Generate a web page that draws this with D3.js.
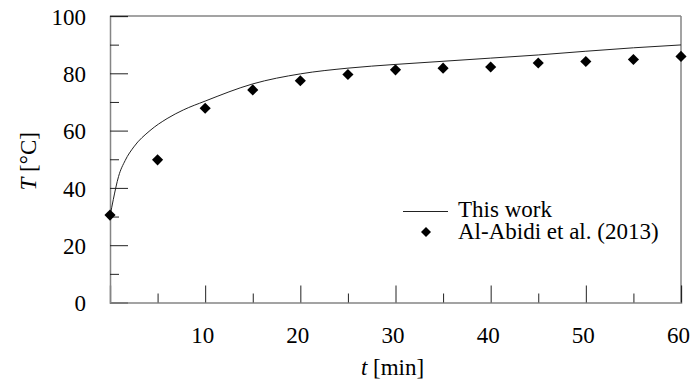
<!DOCTYPE html>
<html>
<head>
<meta charset="utf-8">
<script src="https://cdn.jsdelivr.net/npm/d3@7"></script>
<style>
  html, body { margin: 0; padding: 0; background: #fff; }
  svg { display: block; }
  svg text { font-family: "Liberation Serif", "Times New Roman", Tinos, serif !important; fill: #000; }
</style>
</head>
<body>
<svg id="chart" width="697" height="387"></svg>
<script>
// Data
const expTime = [0, 5, 10, 15, 20, 25, 30, 35, 40, 45, 50, 55, 60];
const expTemp = [30.5, 49.8, 67.8, 74.2, 77.4, 79.6, 81.2, 81.8, 82.2, 83.6, 84.1, 84.8, 85.9];

const modelTime = [0, 0.35, 0.9, 1.6, 2.5, 4.2, 6, 7.7, 10, 15, 20, 25, 30, 35, 40, 45, 50, 55, 60];
const modelTemp = [30, 36, 44, 49.6, 54.3, 60, 64.2, 67.2, 70.3, 76.3, 79.8, 81.8, 83.1, 84.2, 85.3, 86.4, 87.7, 88.9, 89.9];

const xMajorTicks = [10, 20, 30, 40, 50, 60];
const xMinorTicks = [5, 15, 25, 35, 45, 55];
const yMajorTicks = [0, 20, 40, 60, 80, 100];
const yMinorTicks = [10, 30, 50, 70, 90];

const legendLabels = ["This work", "Al-Abidi et al. (2013)"];
const xTitle = "[min]";
const yTitle = "[°C]";

const svg = d3.select("#chart");
const W = 697, H = 387;
const m = { left: 110, right: W - 681, top: 16, bottom: H - 302.5 };

const x = d3.scaleLinear().domain([0, 60]).range([m.left, W - m.right]);
const y = d3.scaleLinear().domain([0, 100]).range([H - m.bottom, m.top]);

const axisColor = "#858585";
const tickColor = "#222";
const fontSize = 23;

// frame (top and right)
svg.append("line").attr("x1", x(0)).attr("x2", x(60)).attr("y1", y(100)).attr("y2", y(100))
  .attr("stroke", axisColor).attr("stroke-width", 1.5);
svg.append("line").attr("x1", x(60)).attr("x2", x(60)).attr("y1", y(100)).attr("y2", y(0))
  .attr("stroke", axisColor).attr("stroke-width", 1.5);

// Y axis (ticks pointing inward)
const gy = svg.append("g").attr("transform", `translate(${x(0)},0)`)
  .call(d3.axisLeft(y).tickValues(yMajorTicks).tickSize(-18).tickFormat(d3.format("d")));
gy.select(".domain").attr("stroke", axisColor).attr("stroke-width", 1.5);
gy.selectAll(".tick line").attr("stroke", tickColor).attr("stroke-width", 1);
gy.selectAll(".tick text").attr("font-size", fontSize).attr("x", -24).attr("dy", "0.36em");
const gyMinor = svg.append("g").attr("transform", `translate(${x(0)},0)`)
  .call(d3.axisLeft(y).tickValues(yMinorTicks).tickSize(-9).tickFormat(""));
gyMinor.select(".domain").remove();
gyMinor.selectAll(".tick line").attr("stroke", tickColor).attr("stroke-width", 1);

// X axis (ticks pointing inward)
const gx = svg.append("g").attr("transform", `translate(0,${y(0)})`)
  .call(d3.axisBottom(x).tickValues(xMajorTicks).tickSize(-17).tickFormat(d3.format("d")));
gx.select(".domain").attr("stroke", axisColor).attr("stroke-width", 1.5);
gx.selectAll(".tick line").attr("stroke", tickColor).attr("stroke-width", 1);
gx.selectAll(".tick text").attr("font-size", fontSize).attr("y", 0).attr("dy", 40.5).attr("dx", -3);
const gxMinor = svg.append("g").attr("transform", `translate(0,${y(0)})`)
  .call(d3.axisBottom(x).tickValues(xMinorTicks).tickSize(-9).tickFormat(""));
gxMinor.select(".domain").remove();
gxMinor.selectAll(".tick line").attr("stroke", tickColor).attr("stroke-width", 1);

// Model curve
const modelData = modelTime.map((t, i) => [t, modelTemp[i]]);
const line = d3.line().x(d => x(d[0])).y(d => y(d[1])).curve(d3.curveMonotoneX);
svg.append("path").datum(modelData).attr("d", line)
  .attr("fill", "none").attr("stroke", "#222").attr("stroke-width", 1);

// Experimental points (diamonds)
const diamond = d3.symbol().type(d3.symbolSquare).size(62);
const expData = expTime.map((t, i) => [t, expTemp[i]]);
svg.append("g").selectAll("path").data(expData).join("path")
  .attr("d", diamond)
  .attr("transform", d => `translate(${x(d[0])},${y(d[1])}) rotate(45)`)
  .attr("fill", "#000");

// Legend
const lg = svg.append("g");
lg.append("line").attr("x1", 403).attr("x2", 448).attr("y1", 211.5).attr("y2", 211.5)
  .attr("stroke", "#222").attr("stroke-width", 1);
lg.append("text").attr("x", 458).attr("y", 217).attr("font-size", fontSize).text(legendLabels[0]);
lg.append("path").attr("d", d3.symbol().type(d3.symbolSquare).size(50))
  .attr("transform", "translate(426,232) rotate(45)").attr("fill", "#000");
lg.append("text").attr("x", 458).attr("y", 238.5).attr("font-size", fontSize).text(legendLabels[1]);

// Axis titles
const xt = svg.append("text").attr("x", (x(0) + x(60)) / 2 - 3).attr("y", 375)
  .attr("text-anchor", "middle").attr("font-size", fontSize);
xt.append("tspan").attr("font-style", "italic").text("t");
xt.append("tspan").text(" " + xTitle);

const yt = svg.append("text").attr("transform", `translate(36,${(y(0) + y(100)) / 2 + 2}) rotate(-90)`)
  .attr("text-anchor", "middle").attr("font-size", fontSize);
yt.append("tspan").attr("font-style", "italic").text("T");
yt.append("tspan").text(" " + yTitle);
</script>
</body>
</html>
